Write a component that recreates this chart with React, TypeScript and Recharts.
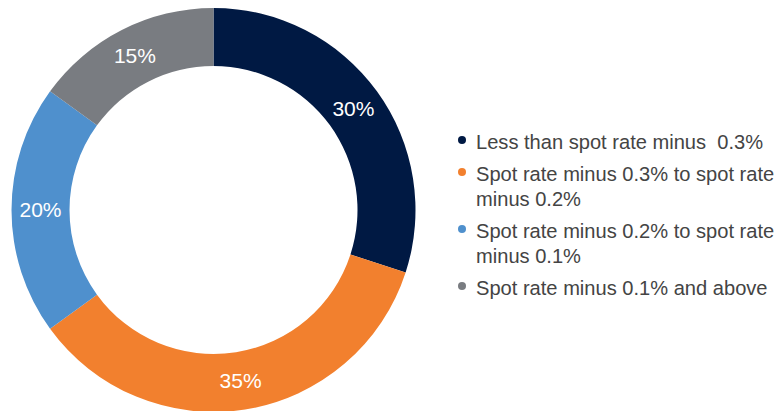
import React from 'react';
import { PieChart, Pie, Cell, Legend, LabelList } from 'recharts';

const categories = [
  'Less than spot rate minus  0.3%',
  'Spot rate minus 0.3% to spot rate minus 0.2%',
  'Spot rate minus 0.2% to spot rate minus 0.1%',
  'Spot rate minus 0.1% and above',
];
const shares = [30, 35, 20, 15];
const colors = ['#001943', '#F2802E', '#4F90CD', '#797C81'];

const chartData = categories.map((name, i) => ({ name, value: shares[i] }));

const FONT = '"Liberation Sans", Arial, Helvetica, sans-serif';

const LegendList = () => (
  <div style={{ fontFamily: FONT, fontSize: 20.1, lineHeight: '25px', color: '#444444' }}>
    {categories.map((name, i) => (
      <div key={name} style={{ display: 'flex', marginBottom: 7 }}>
        <span
          style={{
            width: 8,
            height: 8,
            borderRadius: '50%',
            background: colors[i],
            marginTop: 6,
            marginRight: 10,
            flexShrink: 0,
          }}
        />
        <span style={{ width: 300, whiteSpace: 'pre-wrap' }}>{name}</span>
      </div>
    ))}
  </div>
);

export default function App() {
  return (
    <div style={{ position: 'absolute', left: 0, top: 0, width: 782, height: 411, background: '#fff', overflow: 'hidden' }}>
      <PieChart width={782} height={411} margin={{ top: 0, right: 0, bottom: 0, left: 0 }}>
        <Pie
          data={chartData}
          dataKey="value"
          nameKey="name"
          cx={213.5}
          cy={210}
          innerRadius={144}
          outerRadius={202}
          startAngle={90}
          endAngle={-270}
          stroke="none"
          isAnimationActive={false}
        >
          {chartData.map((d, i) => (
            <Cell key={d.name} fill={colors[i]} />
          ))}
          <LabelList
            dataKey="value"
            position="inside"
            formatter={(v: any) => `${v}%`}
            style={{ fill: '#ffffff', fontSize: 21, fontFamily: FONT, stroke: 'none' }}
          />
        </Pie>
        <Legend
          content={<LegendList />}
          wrapperStyle={{ position: 'absolute', left: 458, top: 130, width: 320 }}
        />
      </PieChart>
    </div>
  );
}
